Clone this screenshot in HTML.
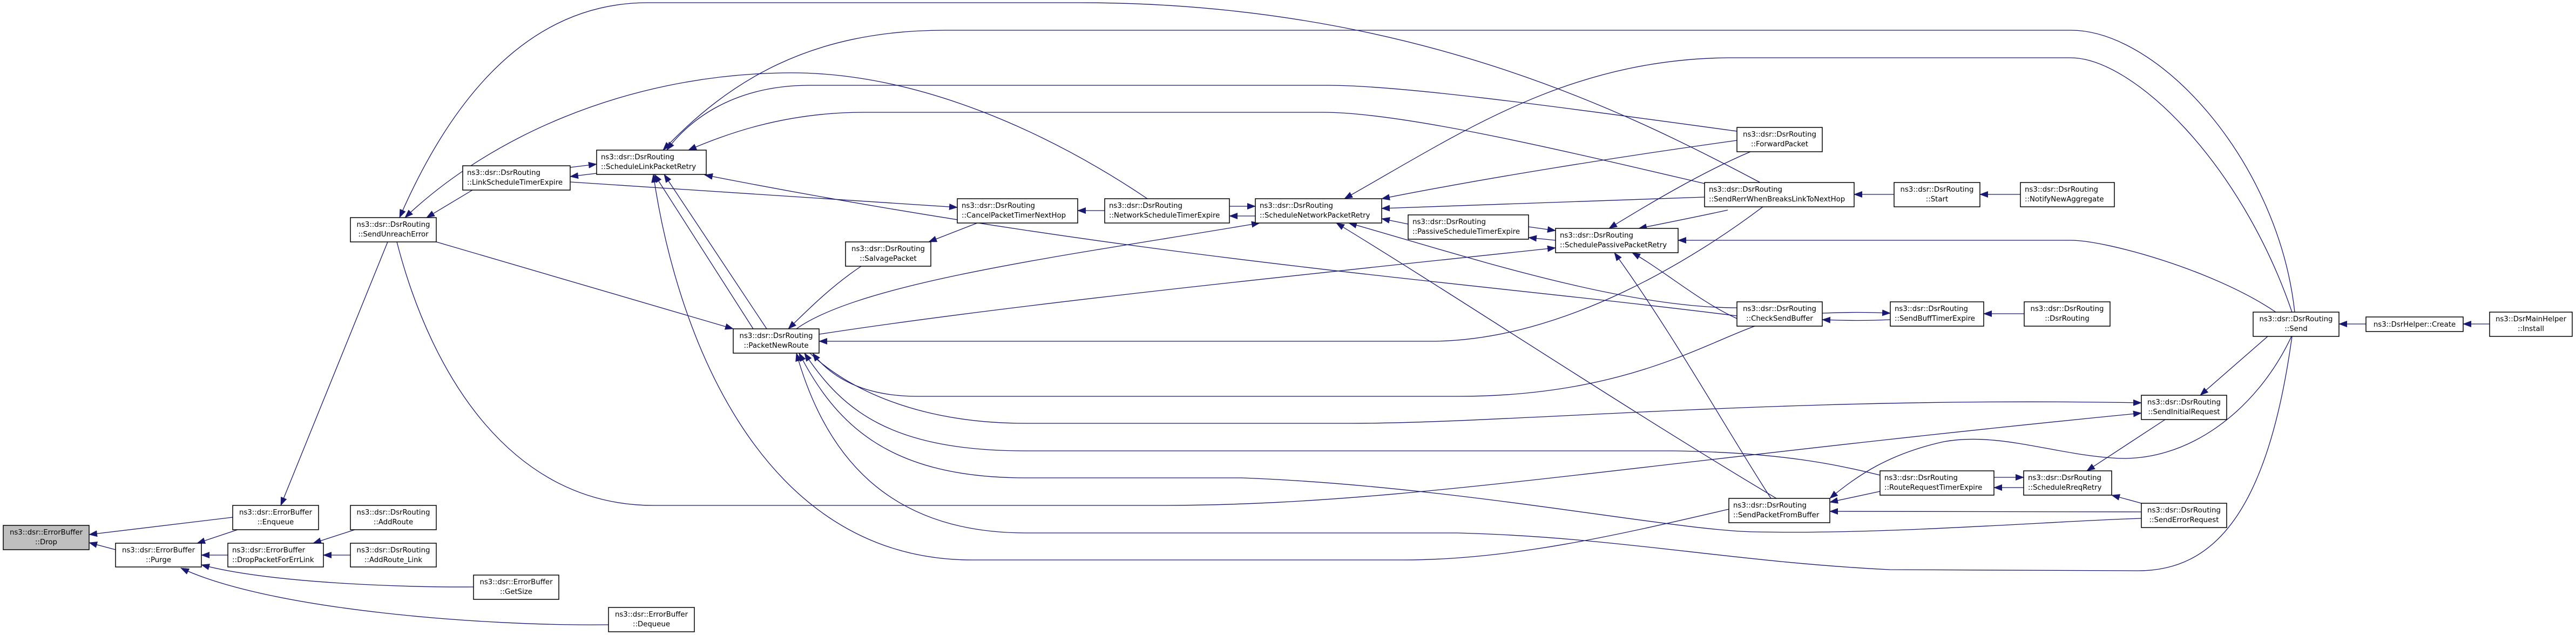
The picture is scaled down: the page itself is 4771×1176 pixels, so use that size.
<!DOCTYPE html>
<html><head><meta charset="utf-8"><style>
html,body{margin:0;padding:0;background:#fff;}
svg{display:block;}
text{font-family:"DejaVu Sans","Liberation Sans",sans-serif;font-size:13.3px;fill:#000;}
.n{fill:#fff;stroke:#000;stroke-width:1.5;}
.e{fill:none;stroke:#191970;stroke-width:1.3;}
</style></head><body>
<svg width="4771" height="1176" viewBox="0 0 4771 1176" xmlns="http://www.w3.org/2000/svg">
<defs>
<marker id="a" markerUnits="userSpaceOnUse" markerWidth="16" markerHeight="12" refX="15" refY="6" orient="auto"><path d="M0,0 L16,6 L0,12 z" fill="#191970"/></marker>
</defs>
<g class="e" marker-end="url(#a)">
<path d="M431,958 L165,990"/>
<path d="M214,1018 L165,1005"/>
<path d="M440,981 L365,1006"/>
<path d="M422,1028 L373,1028"/>
<path d="M877,1087 C750,1088 500,1080 373,1046"/>
<path d="M1127,1157 C900,1160 500,1130 335,1052"/>
<path d="M657,981 L580,1006"/>
<path d="M649,1028 L599,1028"/>
<path d="M718,448 L520,936"/>
<path d="M875,352 L790,403"/>
<path d="M3260,338 C3000,200 2600,5 2000,5 L1200,5 C1000,5 850,150 740,403"/>
<path d="M2125,368 C1950,250 1700,130 1450,135 C1150,140 900,260 750,403"/>
<path d="M808,448 L1358,609"/>
<path d="M735,448 C800,700 950,936 1210,936 L2150,936 C2600,936 3000,860 3966,765"/>
<path d="M1056,310 L1105,304"/>
<path d="M1105,321 L1056,327"/>
<path d="M1056,337 L1773,384"/>
<path d="M4250,578 C4220,300 4000,56 3835,56 L1750,56 C1500,56 1350,150 1228,278"/>
<path d="M4245,578 C4150,300 3950,107 3835,107 L3200,107 C2900,110 2700,250 2490,368"/>
<path d="M3217,243 C2900,200 2600,158 2460,158 L1500,158 C1350,158 1270,230 1235,278"/>
<path d="M3157,340 C2900,280 2600,208 2450,208 L1600,208 C1450,208 1340,250 1275,278"/>
<path d="M3217,585 C2700,520 2100,480 1305,324"/>
<path d="M1420,609 L1230,323"/>
<path d="M1395,609 L1212,323"/>
<path d="M3215,940 C3000,990 2800,1037 2600,1037 L1800,1037 C1400,1037 1250,600 1210,323"/>
<path d="M1810,413 L1720,448"/>
<path d="M2046,390 L1996,390"/>
<path d="M1595,493 C1540,530 1500,570 1460,609"/>
<path d="M2277,382 L2325,382"/>
<path d="M2325,400 L2277,400"/>
<path d="M1475,609 C1600,520 2000,470 2333,413"/>
<path d="M1517,619 C1900,560 2500,500 2881,459"/>
<path d="M3265,383 C3150,470 2900,632 2650,632 L1517,632"/>
<path d="M3250,604 C3150,640 3000,734 2700,734 L1700,734 C1600,734 1540,700 1505,654"/>
<path d="M1500,654 C1570,720 1700,784 1900,784 L2500,784 C2800,784 3300,734 3966,746"/>
<path d="M3482,880 C3400,860 3300,838 3100,835 L1900,835 C1650,835 1560,760 1490,654"/>
<path d="M3966,960 C3800,965 3500,990 3250,985 C3100,983 2700,900 2300,885 L1900,885 C1650,885 1550,790 1480,654"/>
<path d="M4245,623 C4200,950 4100,1057 3960,1057 L3500,1055 C3200,1040 3000,995 2700,987 L1900,987 C1650,987 1530,850 1475,654"/>
<path d="M3966,932 L3911,917"/>
<path d="M3693,884 L3748,884"/>
<path d="M3748,903 L3693,903"/>
<path d="M4010,777 L3865,872"/>
<path d="M4200,623 L4075,732"/>
<path d="M3482,910 L3389,930"/>
<path d="M3966,948 L3389,947"/>
<path d="M4244,623 C4180,760 4050,860 3911,848 C3800,840 3700,800 3600,818 C3500,840 3440,880 3389,923"/>
<path d="M4215,578 C4100,500 3900,445 3835,445 L3108,445"/>
<path d="M2831,420 L2881,427"/>
<path d="M2881,445 L2831,440"/>
<path d="M2608,415 L2559,405"/>
<path d="M3242,281 C3150,320 3050,380 2980,423"/>
<path d="M3200,389 C3150,400 3100,410 3035,423"/>
<path d="M3217,590 C3150,560 3080,500 3023,468"/>
<path d="M3280,923 C3200,800 3100,620 2990,468"/>
<path d="M3217,260 C3000,290 2750,330 2559,368"/>
<path d="M3157,365 L2559,386"/>
<path d="M3217,570 C3000,570 2700,470 2498,413"/>
<path d="M3290,923 C3000,750 2700,550 2475,413"/>
<path d="M3375,580 C3420,578 3460,578 3501,580"/>
<path d="M3501,592 C3460,594 3420,594 3375,592"/>
<path d="M3749,581 L3674,581"/>
<path d="M3508,360 L3434,360"/>
<path d="M3742,360 L3667,360"/>
<path d="M4382,600 L4332,600"/>
<path d="M4611,600 L4562,600"/>
</g>
<g>
<rect class="n" x="6" y="973" width="159" height="45" style="fill:#bfbfbf"/>
<text x="85.5" y="990" text-anchor="middle">ns3::dsr::ErrorBuffer</text><text x="85.5" y="1008" text-anchor="middle">::Drop</text>
<rect class="n" x="431" y="936" width="159" height="45"/>
<text x="510.5" y="953" text-anchor="middle">ns3::dsr::ErrorBuffer</text><text x="510.5" y="971" text-anchor="middle">::Enqueue</text>
<rect class="n" x="214" y="1006" width="159" height="44"/>
<text x="293.5" y="1023" text-anchor="middle">ns3::dsr::ErrorBuffer</text><text x="293.5" y="1041" text-anchor="middle">::Purge</text>
<rect class="n" x="422" y="1006" width="177" height="44"/>
<text x="430" y="1023">ns3::dsr::ErrorBuffer</text><text x="430" y="1041">::DropPacketForErrLink</text>
<rect class="n" x="649" y="936" width="159" height="45"/>
<text x="728.5" y="953" text-anchor="middle">ns3::dsr::DsrRouting</text><text x="728.5" y="971" text-anchor="middle">::AddRoute</text>
<rect class="n" x="649" y="1006" width="159" height="44"/>
<text x="728.5" y="1023" text-anchor="middle">ns3::dsr::DsrRouting</text><text x="728.5" y="1041" text-anchor="middle">::AddRoute_Link</text>
<rect class="n" x="649" y="403" width="159" height="45"/>
<text x="728.5" y="420" text-anchor="middle">ns3::dsr::DsrRouting</text><text x="728.5" y="438" text-anchor="middle">::SendUnreachError</text>
<rect class="n" x="857" y="307" width="199" height="45"/>
<text x="865" y="324">ns3::dsr::DsrRouting</text><text x="865" y="342">::LinkScheduleTimerExpire</text>
<rect class="n" x="1105" y="278" width="203" height="45"/>
<text x="1113" y="295">ns3::dsr::DsrRouting</text><text x="1113" y="313">::ScheduleLinkPacketRetry</text>
<rect class="n" x="1773" y="368" width="223" height="45"/>
<text x="1781" y="385">ns3::dsr::DsrRouting</text><text x="1781" y="403">::CancelPacketTimerNextHop</text>
<rect class="n" x="1566" y="448" width="158" height="45"/>
<text x="1645" y="465" text-anchor="middle">ns3::dsr::DsrRouting</text><text x="1645" y="483" text-anchor="middle">::SalvagePacket</text>
<rect class="n" x="1358" y="609" width="159" height="45"/>
<text x="1437.5" y="626" text-anchor="middle">ns3::dsr::DsrRouting</text><text x="1437.5" y="644" text-anchor="middle">::PacketNewRoute</text>
<rect class="n" x="877" y="1065" width="158" height="45"/>
<text x="956" y="1082" text-anchor="middle">ns3::dsr::ErrorBuffer</text><text x="956" y="1100" text-anchor="middle">::GetSize</text>
<rect class="n" x="1127" y="1125" width="159" height="45"/>
<text x="1206.5" y="1142" text-anchor="middle">ns3::dsr::ErrorBuffer</text><text x="1206.5" y="1160" text-anchor="middle">::Dequeue</text>
<rect class="n" x="2046" y="368" width="231" height="45"/>
<text x="2054" y="385">ns3::dsr::DsrRouting</text><text x="2054" y="403">::NetworkScheduleTimerExpire</text>
<rect class="n" x="2325" y="368" width="234" height="45"/>
<text x="2333" y="385">ns3::dsr::DsrRouting</text><text x="2333" y="403">::ScheduleNetworkPacketRetry</text>
<rect class="n" x="2608" y="398" width="223" height="45"/>
<text x="2616" y="415">ns3::dsr::DsrRouting</text><text x="2616" y="433">::PassiveScheduleTimerExpire</text>
<rect class="n" x="2881" y="423" width="227" height="45"/>
<text x="2889" y="440">ns3::dsr::DsrRouting</text><text x="2889" y="458">::SchedulePassivePacketRetry</text>
<rect class="n" x="3217" y="236" width="158" height="45"/>
<text x="3296" y="253" text-anchor="middle">ns3::dsr::DsrRouting</text><text x="3296" y="271" text-anchor="middle">::ForwardPacket</text>
<rect class="n" x="3157" y="338" width="277" height="45"/>
<text x="3165" y="355">ns3::dsr::DsrRouting</text><text x="3165" y="373">::SendRerrWhenBreaksLinkToNextHop</text>
<rect class="n" x="3508" y="338" width="159" height="45"/>
<text x="3587.5" y="355" text-anchor="middle">ns3::dsr::DsrRouting</text><text x="3587.5" y="373" text-anchor="middle">::Start</text>
<rect class="n" x="3742" y="338" width="174" height="45"/>
<text x="3750" y="355">ns3::dsr::DsrRouting</text><text x="3750" y="373">::NotifyNewAggregate</text>
<rect class="n" x="3217" y="559" width="158" height="45"/>
<text x="3296" y="576" text-anchor="middle">ns3::dsr::DsrRouting</text><text x="3296" y="594" text-anchor="middle">::CheckSendBuffer</text>
<rect class="n" x="3501" y="559" width="173" height="45"/>
<text x="3509" y="576">ns3::dsr::DsrRouting</text><text x="3509" y="594">::SendBuffTimerExpire</text>
<rect class="n" x="3749" y="559" width="159" height="45"/>
<text x="3828.5" y="576" text-anchor="middle">ns3::dsr::DsrRouting</text><text x="3828.5" y="594" text-anchor="middle">::DsrRouting</text>
<rect class="n" x="4173" y="578" width="159" height="45"/>
<text x="4252.5" y="595" text-anchor="middle">ns3::dsr::DsrRouting</text><text x="4252.5" y="613" text-anchor="middle">::Send</text>
<rect class="n" x="3966" y="732" width="158" height="45"/>
<text x="4045" y="749" text-anchor="middle">ns3::dsr::DsrRouting</text><text x="4045" y="767" text-anchor="middle">::SendInitialRequest</text>
<rect class="n" x="3482" y="872" width="211" height="45"/>
<text x="3490" y="889">ns3::dsr::DsrRouting</text><text x="3490" y="907">::RouteRequestTimerExpire</text>
<rect class="n" x="3748" y="872" width="163" height="45"/>
<text x="3756" y="889">ns3::dsr::DsrRouting</text><text x="3756" y="907">::ScheduleRreqRetry</text>
<rect class="n" x="3966" y="932" width="158" height="45"/>
<text x="4045" y="949" text-anchor="middle">ns3::dsr::DsrRouting</text><text x="4045" y="967" text-anchor="middle">::SendErrorRequest</text>
<rect class="n" x="3202" y="923" width="187" height="45"/>
<text x="3210" y="940">ns3::dsr::DsrRouting</text><text x="3210" y="958">::SendPacketFromBuffer</text>
<rect class="n" x="4382" y="587" width="180" height="27"/>
<text x="4472" y="605" text-anchor="middle">ns3::DsrHelper::Create</text>
<rect class="n" x="4611" y="578" width="153" height="45"/>
<text x="4687.5" y="595" text-anchor="middle">ns3::DsrMainHelper</text><text x="4687.5" y="613" text-anchor="middle">::Install</text>
</g>
</svg>
</body></html>
